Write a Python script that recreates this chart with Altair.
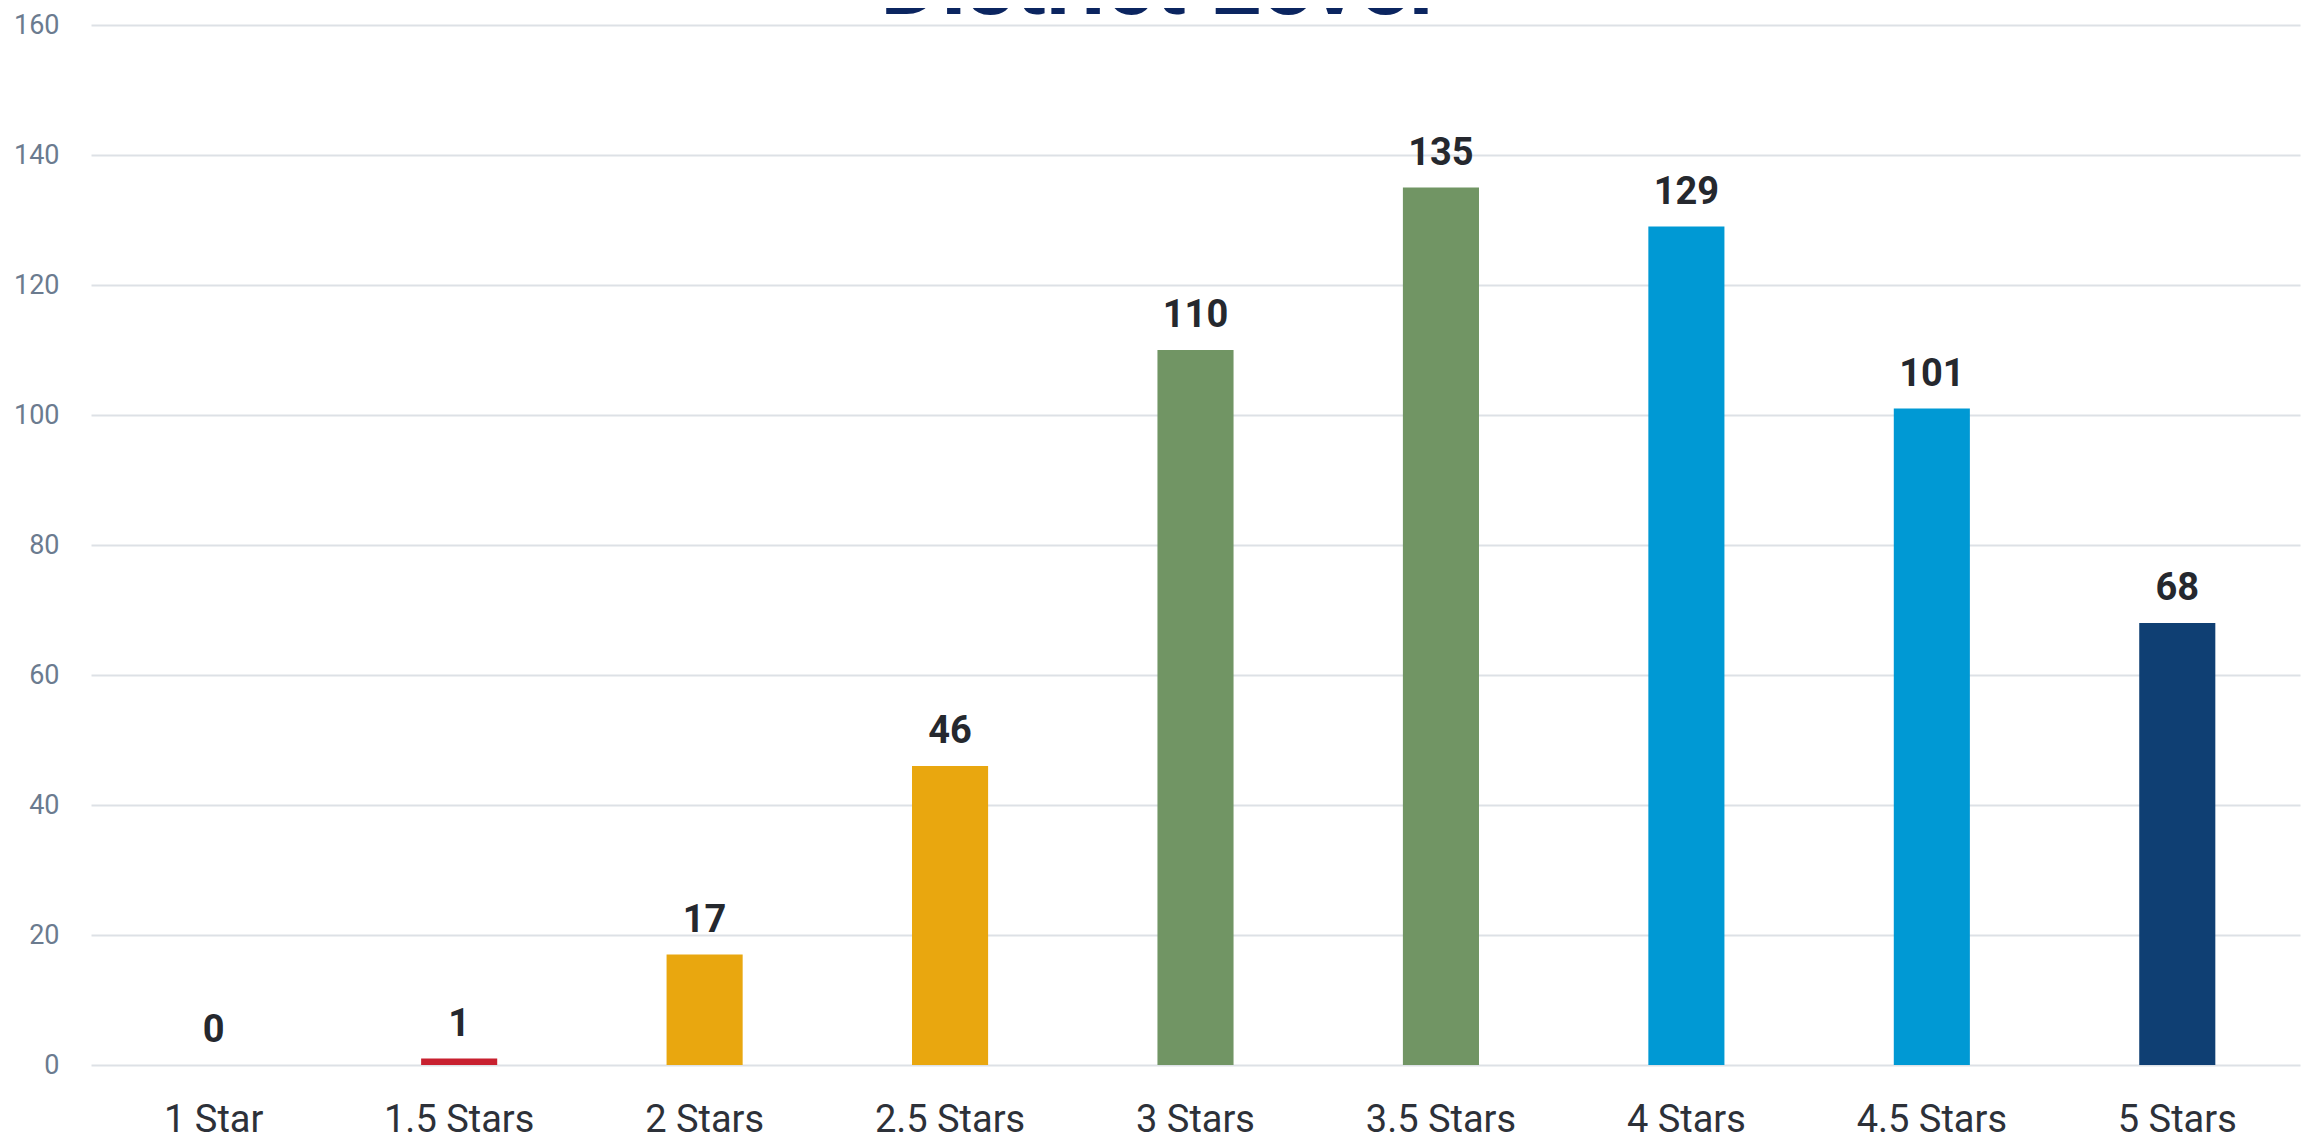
import altair as alt
import pandas as pd

categories = ["1 Star", "1.5 Stars", "2 Stars", "2.5 Stars", "3 Stars",
              "3.5 Stars", "4 Stars", "4.5 Stars", "5 Stars"]
counts = [0, 1, 17, 46, 110, 135, 129, 101, 68]
bar_colors = ["#c8202f", "#c8202f", "#e9a70f", "#e9a70f", "#719564",
              "#719564", "#0099d4", "#0099d4", "#0f3f73"]
y_ticks = [0, 20, 40, 60, 80, 100, 120, 140, 160]
title_text = "District Level"

df = pd.DataFrame({"category": categories, "count": counts})

x_enc = alt.X(
    "category:N",
    sort=categories,
    title=None,
    scale=alt.Scale(paddingInner=0.69, paddingOuter=0.345),
    axis=alt.Axis(
        labelAngle=0,
        labelFont="Roboto",
        labelFontSize=38,
        labelColor="#2d3139",
        labelPadding=66,
        labelBaseline="alphabetic",
        ticks=False,
        tickSize=0,
        domain=False,
        grid=False,
    ),
)
y_enc = alt.Y(
    "count:Q",
    title=None,
    scale=alt.Scale(domain=[0, 160], nice=False),
    axis=alt.Axis(
        values=y_ticks,
        labelFont="Roboto",
        labelFontSize=27,
        labelColor="#6b7b8f",
        labelPadding=32,
        ticks=False,
        tickSize=0,
        domain=False,
        grid=True,
        gridColor="#dde1e6",
        gridWidth=2,
    ),
)

bars = alt.Chart(df).mark_bar().encode(
    x=x_enc,
    y=y_enc,
    color=alt.Color("category:N",
                    scale=alt.Scale(domain=categories, range=bar_colors),
                    legend=None),
)

labels = alt.Chart(df).mark_text(
    font="Roboto",
    fontSize=38,
    fontWeight="bold",
    color="#25282e",
    baseline="alphabetic",
    dy=-23,
).encode(
    x=alt.X("category:N", sort=categories),
    y=alt.Y("count:Q"),
    text=alt.Text("count:Q"),
)

chart = alt.layer(bars, labels).properties(
    width=2209,
    height=1040,
    background="white",
    title=alt.TitleParams(
        text=title_text,
        font="Roboto",
        fontSize=94,
        fontWeight="bold",
        color="#0b2560",
        anchor="middle",
        frame="bounds",
        baseline="alphabetic",
        offset=-97,
    ),
    autosize=alt.AutoSizeParams(type="none"),
    padding={"left": 83, "top": 17, "right": 5, "bottom": 77},
).configure_view(strokeWidth=0, stroke="transparent")

chart.save("out.html", embed_options={"renderer": "svg", "actions": False})
